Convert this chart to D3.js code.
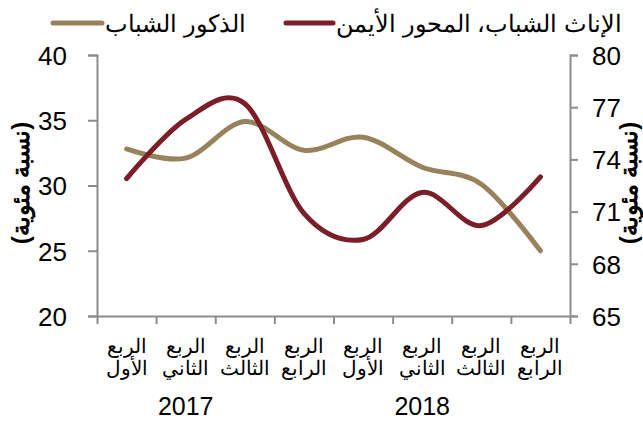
<!DOCTYPE html>
<html>
<head>
<meta charset="utf-8">
<script src="https://cdn.jsdelivr.net/npm/d3@7"></script>
<style>
  body { margin: 0; background: #fff; }
  svg { font-family: "Liberation Sans", Arial, sans-serif; }
</style>
</head>
<body>
<div id="chart"></div>
<script>
// youth unemployment by quarter, two axes

var quarters = ["الأول", "الثاني", "الثالث", "الرابع", "الأول", "الثاني", "الثالث", "الرابع"];
var years = [{label: "2017", at: 1}, {label: "2018", at: 5}];
var males = [32.8, 32.1, 34.9, 32.7, 33.7, 31.4, 30.1, 25.0];    // left axis
var females = [72.9, 76.3, 77.2, 70.9, 69.4, 72.1, 70.2, 73.0]; // right axis
var leftTicks = [20, 25, 30, 35, 40];
var rightTicks = [65, 68, 71, 74, 77, 80];

var width = 643,
    height = 421;

var margin = {top: 55, right: 73, bottom: 105, left: 97};
var x0 = margin.left, x1 = width - margin.right;
var y0 = height - margin.bottom, y1 = margin.top;

var svg = d3.select("#chart").append("svg")
    .attr("width", width)
    .attr("height", height);

var x = d3.scaleBand()
    .domain(d3.range(quarters.length))
    .range([x0, x1]);

var xEdge = d3.scaleLinear()
    .domain([0, quarters.length])
    .range([x0, x1]);

var yLeft = d3.scaleLinear().domain([20, 40]).range([y0, y1]);
var yRight = d3.scaleLinear().domain([65, 80]).range([y0, y1]);

var axisColor = "#8c8c8c";

function styleAxis(g) {
  g.select(".domain").attr("stroke", axisColor).attr("stroke-width", 2);
  g.selectAll(".tick line").attr("stroke", axisColor).attr("stroke-width", 2);
  g.selectAll("text").attr("fill", "#000").style("font-size", "26px")
    .attr("font-family", "'Liberation Sans', Arial, sans-serif");
}

svg.append("g")
    .attr("transform", "translate(" + x0 + ",0)")
    .call(d3.axisLeft(yLeft).tickValues(leftTicks).tickSizeOuter(0).tickSize(9).tickPadding(21))
    .call(styleAxis)
    .selectAll("text").attr("dy", "0.36em");

svg.append("g")
    .attr("transform", "translate(" + x1 + ",0)")
    .call(d3.axisRight(yRight).tickValues(rightTicks).tickSizeOuter(0).tickSize(8).tickPadding(14))
    .call(styleAxis)
    .selectAll("text").attr("dy", "0.36em");

svg.append("g")
    .attr("transform", "translate(0," + y0 + ")")
    .call(d3.axisBottom(xEdge).tickValues(d3.range(quarters.length + 1)).tickFormat("").tickSize(8).tickSizeOuter(0))
    .call(styleAxis);

// category labels
var cats = svg.append("g").attr("class", "cats")
    .style("font-size", "20px");

cats.selectAll(".q1")
    .data(quarters)
    .enter().append("text")
    .attr("x", function(d, i) { return x(i) + x.bandwidth() / 2; })
    .attr("y", 353)
    .attr("text-anchor", "middle")
    .attr("direction", "rtl")
    .text("الربع");

cats.selectAll(".q2")
    .data(quarters)
    .enter().append("text")
    .attr("x", function(d, i) { return x(i) + x.bandwidth() / 2; })
    .attr("y", 375)
    .attr("text-anchor", "middle")
    .attr("direction", "rtl")
    .text(function(d) { return d; });

svg.selectAll(".year")
    .data(years)
    .enter().append("text")
    .attr("class", "year")
    .attr("x", function(d) { return x(d.at) + x.bandwidth() / 2; })
    .attr("y", 415)
    .attr("text-anchor", "middle")
    .style("font-size", "25px")
    .text(function(d) { return d.label; });

// axis titles
[{cx: 21, cy: 183}, {cx: 629, cy: 183}].forEach(function(p) {
  svg.append("text")
    .attr("transform", "translate(" + p.cx + "," + p.cy + ") rotate(-90)")
    .attr("text-anchor", "middle")
    .attr("direction", "rtl")
    .attr("dy", "0.35em")
    .style("font-size", "24px")
    .style("font-weight", "bold")
    .text("(نسبة مئوية)");
});

// lines
var lineLeft = d3.line()
    .x(function(d, i) { return x(i) + x.bandwidth() / 2; })
    .y(function(d) { return yLeft(d); })
    .curve(d3.curveCardinal.tension(0));

var lineRight = d3.line()
    .x(function(d, i) { return x(i) + x.bandwidth() / 2; })
    .y(function(d) { return yRight(d); })
    .curve(d3.curveCardinal.tension(0));

var tan = "#98825c",
    red = "#7c1e28";

svg.append("path")
    .datum(males)
    .attr("d", lineLeft)
    .attr("fill", "none")
    .attr("stroke", tan)
    .attr("stroke-width", 5)
    .attr("stroke-linecap", "round");

svg.append("path")
    .datum(females)
    .attr("d", lineRight)
    .attr("fill", "none")
    .attr("stroke", red)
    .attr("stroke-width", 5)
    .attr("stroke-linecap", "round");

// legend
var legend = [
  {label: "الذكور الشباب", color: tan, lx: 53, len: 49, tx: 105},
  {label: "الإناث الشباب، المحور الأيمن", color: red, lx: 286, len: 47, tx: 336}
];

var lg = svg.selectAll(".legend")
    .data(legend)
    .enter().append("g")
    .attr("class", "legend");

lg.append("line")
    .attr("x1", function(d) { return d.lx; })
    .attr("x2", function(d) { return d.lx + d.len; })
    .attr("y1", 23)
    .attr("y2", 23)
    .attr("stroke", function(d) { return d.color; })
    .attr("stroke-width", 5)
    .attr("stroke-linecap", "round");

lg.append("text")
    .attr("x", function(d) { return d.tx; })
    .attr("y", 32)
    .attr("text-anchor", "end")
    .attr("direction", "rtl")
    .style("font-size", "23.5px")
    .text(function(d) { return d.label; });
</script>
</body>
</html>
